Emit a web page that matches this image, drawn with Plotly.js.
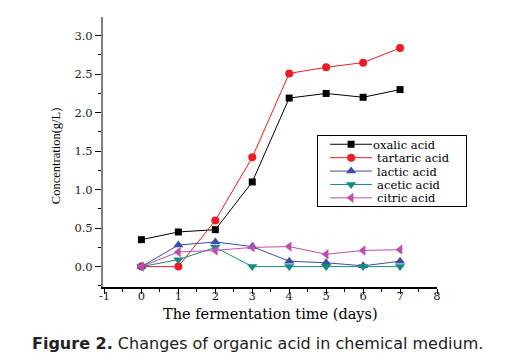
<!DOCTYPE html>
<html>
<head>
<meta charset="utf-8">
<script src="https://cdn.plot.ly/plotly-3.0.1.min.js"></script>
<style>html,body{margin:0;padding:0;background:#fff;}#chart{width:508px;height:356px;}</style>
</head>
<body>
<div id="chart"></div>
<script>
var days = [0, 1, 2, 3, 4, 5, 6, 7];
var oxalic = [0.35, 0.45, 0.48, 1.10, 2.19, 2.25, 2.20, 2.30];
var tartaric = [0.00, 0.00, 0.60, 1.42, 2.51, 2.59, 2.65, 2.84];
var lactic = [0.00, 0.28, 0.32, 0.26, 0.07, 0.05, 0.01, 0.07];
var acetic = [0.00, 0.09, 0.25, 0.00, 0.00, 0.00, 0.00, 0.00];
var citric = [0.00, 0.19, 0.21, 0.25, 0.26, 0.16, 0.21, 0.22];
var seriesNames = ["oxalic acid", "tartaric acid", "lactic acid", "acetic acid", "citric acid"];
var xTickVals = [-1, 0, 1, 2, 3, 4, 5, 6, 7, 8];
var xTickText = ["-1", "0", "1", "2", "3", "4", "5", "6", "7", "8"];
var xTitle = "The fermentation time (days)";
var yTitle = "Concentration(g/L)";
var caption = "<b>Figure 2.</b> Changes of organic acid in chemical medium.";

function tr(y, name, color, symbol, size) {
  return {
    x: days, y: y, name: name, type: "scatter", mode: "lines+markers",
    line: {color: color, width: 1},
    marker: {color: color, symbol: symbol, size: size}
  };
}
var data = [
  tr(oxalic, seriesNames[0], "#000000", "square", 7),
  tr(tartaric, seriesNames[1], "#ee1c24", "circle", 8),
  tr(lactic, seriesNames[2], "#3c4ea6", "triangle-up", 9),
  tr(acetic, seriesNames[3], "#148c82", "triangle-down", 9),
  tr(citric, seriesNames[4], "#c04cb0", "triangle-left", 9)
];
var tickFont = {family: "DejaVu Serif", size: 11.5, color: "#1a1a1a"};
var layout = {
  width: 508, height: 356,
  margin: {l: 103, r: 71, t: 17, b: 69},
  paper_bgcolor: "#ffffff", plot_bgcolor: "#ffffff",
  showlegend: true,
  xaxis: {
    range: [-1.04, 8], tickmode: "array", tickvals: xTickVals, ticktext: xTickText,
    showgrid: false, zeroline: false,
    showline: true, linecolor: "#000000", linewidth: 1.5,
    ticks: "outside", ticklen: 5, tickwidth: 1, tickcolor: "#000",
    ticklabelstandoff: -7,
    minor: {dtick: 0.5, tick0: 0, ticks: "outside", ticklen: 3, tickcolor: "#000", showgrid: false},
    tickfont: tickFont
  },
  yaxis: {
    range: [-0.265, 3.243], dtick: 0.5, tick0: 0, tickformat: ".1f",
    showgrid: false, zeroline: false,
    showline: true, linecolor: "#808080", linewidth: 2,
    ticks: "outside", ticklen: 6, tickwidth: 1, tickcolor: "#000",
    minor: {dtick: 0.25, ticks: "outside", ticklen: 3, tickcolor: "#000", showgrid: false},
    tickfont: tickFont
  },
  legend: {
    x: 0.641, y: 0.562, xanchor: "left", yanchor: "top",
    bgcolor: "#ffffff", bordercolor: "#000000", borderwidth: 1,
    font: {family: "DejaVu Serif", size: 11.5, color: "#000"},
    tracegroupgap: 0, itemwidth: 40
  },
  annotations: [
    {text: xTitle, xref: "paper", yref: "paper", x: 0.5, y: -0.1,
     xanchor: "center", yanchor: "middle", showarrow: false,
     font: {family: "DejaVu Serif", size: 14.5, color: "#000"}},
    {text: yTitle, xref: "paper", yref: "paper", x: -0.141, y: 0.488,
     xanchor: "center", yanchor: "middle", showarrow: false, textangle: -90,
     font: {family: "Liberation Serif", size: 12.5, color: "#000"}},
    {text: caption, xref: "paper", yref: "paper", x: 0.464, y: -0.209,
     xanchor: "center", yanchor: "middle", showarrow: false,
     font: {family: "DejaVu Sans", size: 16, color: "#222"}}
  ]
};
Plotly.newPlot("chart", data, layout, {displayModeBar: false, staticPlot: true}).then(function (gd) {
  // compact legend rows and widen the line samples to match the reference
  var leg = gd.querySelector(".legend");
  if (!leg) return;
  leg.querySelectorAll("[clip-path]").forEach(function (e) { e.removeAttribute("clip-path"); });
  var items = leg.querySelectorAll(".traces");
  var rowH = 13.4, top = 9;
  items.forEach(function (g, i) {
    g.setAttribute("transform", "translate(0," + (top + i * rowH) + ")");
    g.querySelectorAll("path.js-line").forEach(function (p) { p.setAttribute("d", "M13,0h42"); });
    g.querySelectorAll(".legendpoints path").forEach(function (p) {
      p.setAttribute("transform", "translate(34,0)");
    });
    var txt = g.querySelector("text.legendtext");
    if (txt) txt.setAttribute("x", i === 0 ? "56" : "60");
  });
  var bg = leg.querySelector("rect.bg");
  if (bg) {
    bg.setAttribute("height", "71");
    bg.setAttribute("width", "149");
  }
});
</script>
</body>
</html>
